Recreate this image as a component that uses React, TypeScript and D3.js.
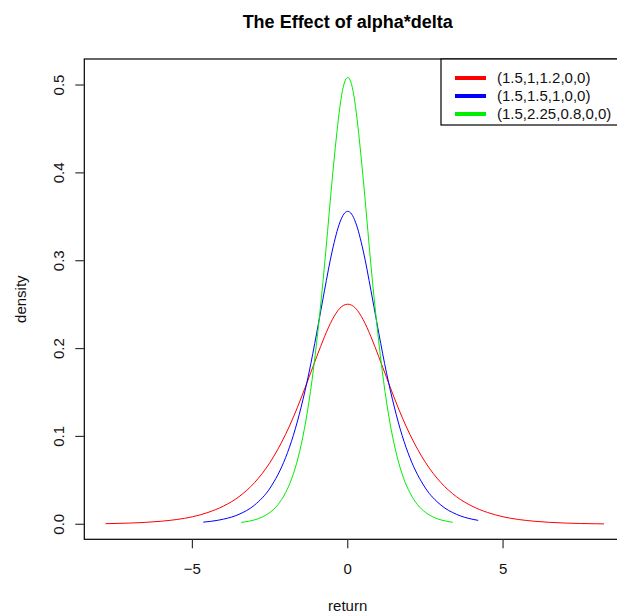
import React from "react";
import * as d3 from "d3";

const redX = [-7.8, -7, -6.5, -6, -5.5, -5, -4.5, -4, -3.5, -3, -2.5, -2, -1.75, -1.5, -1.25, -1, -0.75, -0.5, -0.25, 0, 0.25, 0.5, 0.75, 1, 1.25, 1.5, 1.75, 2, 2.5, 3, 3.5, 4, 4.5, 5, 5.5, 6, 6.5, 7, 7.5, 8, 8.25];
const redY = [0.00066, 0.00139, 0.0022, 0.00347, 0.00544, 0.00852, 0.01345, 0.0207, 0.0314, 0.0474, 0.0705, 0.1024, 0.1219, 0.1437, 0.167, 0.1906, 0.2133, 0.2327, 0.246, 0.2505, 0.246, 0.2327, 0.2133, 0.1906, 0.167, 0.1437, 0.1219, 0.1024, 0.0705, 0.0474, 0.0314, 0.0207, 0.01345, 0.00852, 0.00544, 0.00347, 0.0022, 0.00139, 0.00087, 0.00055, 0.00044];

const blueX = [-4.65, -4.2, -4, -3.5, -3, -2.5, -2, -1.75, -1.5, -1.25, -1, -0.75, -0.5, -0.25, -0.125, 0, 0.125, 0.25, 0.5, 0.75, 1, 1.25, 1.5, 1.75, 2, 2.5, 3, 3.5, 4, 4.2];
const blueY = [0.0024, 0.00443, 0.00582, 0.01133, 0.02184, 0.04125, 0.0759, 0.1012, 0.1334, 0.172, 0.2175, 0.2657, 0.311, 0.3439, 0.3531, 0.3562, 0.3531, 0.3439, 0.311, 0.2657, 0.2175, 0.172, 0.1334, 0.1012, 0.0759, 0.04125, 0.02184, 0.01133, 0.00582, 0.00443];

const greenX = [-3.43, -3.2, -3, -2.75, -2.5, -2.25, -2, -1.8, -1.6, -1.4, -1.2, -1, -0.8, -0.7, -0.6, -0.5, -0.4, -0.3, -0.2, -0.1, 0, 0.1, 0.2, 0.3, 0.4, 0.5, 0.6, 0.7, 0.8, 1, 1.2, 1.4, 1.6, 1.8, 2, 2.25, 2.5, 2.75, 3, 3.2, 3.38];
const greenY = [0.00206, 0.00331, 0.00499, 0.00826, 0.01361, 0.02219, 0.036, 0.0523, 0.0755, 0.1077, 0.151, 0.2072, 0.2753, 0.3132, 0.3533, 0.3927, 0.4288, 0.4615, 0.4876, 0.5034, 0.5086, 0.5034, 0.4876, 0.4615, 0.4288, 0.3927, 0.3533, 0.3132, 0.2753, 0.2072, 0.151, 0.1077, 0.0755, 0.0523, 0.036, 0.02219, 0.01361, 0.00826, 0.00499, 0.00331, 0.00229];

const xTicks = [-5, 0, 5];
const xTickLabels = ["\u22125", "0", "5"];
const yTicks = [0, 0.1, 0.2, 0.3, 0.4, 0.5];
const yTickLabels = ["0.0", "0.1", "0.2", "0.3", "0.4", "0.5"];

const legendLabels = ["(1.5,1,1.2,0,0)", "(1.5,1.5,1,0,0)", "(1.5,2.25,0.8,0,0)"];
const seriesColors = ["#ff0000", "#0000ff", "#00ee00"];

const W = 617;
const H = 616;
const left = 84.3;
const right = 623.9;
const top = 59;
const bottom = 539.3;
const font = "'Liberation Sans', Arial, Helvetica, sans-serif";

export default function App() {
  const x = d3.scaleLinear().domain([-8.48, 8.89]).range([left, right]);
  const y = d3.scaleLinear().domain([-0.0171, 0.5296]).range([bottom, top]);
  const line = d3
    .line<[number, number]>()
    .x((d) => x(d[0]))
    .y((d) => y(d[1]))
    .curve(d3.curveMonotoneX);

  const series = [
    { xs: redX, ys: redY },
    { xs: blueX, ys: blueY },
    { xs: greenX, ys: greenY },
  ];

  const legLeft = 441;
  const legTop = 59;
  const legRow0 = 78;
  const legStep = 18;
  const legBottom = 125;

  return (
    <svg
      width={W}
      height={H}
      viewBox={`0 0 ${W} ${H}`}
      style={{ position: "absolute", left: 0, top: 0, background: "#fff" }}
    >
      <rect x={0} y={0} width={W} height={H} fill="#fff" />
      <text
        x={(left + 611) / 2}
        y={28}
        textAnchor="middle"
        fontFamily={font}
        fontWeight="bold"
        fontSize={18}
        fill="#000"
      >
        The Effect of alpha*delta
      </text>

      {series.map((s, i) => (
        <path
          key={i}
          d={line(s.xs.map((v, j) => [v, s.ys[j]] as [number, number])) || ""}
          fill="none"
          stroke={seriesColors[i]}
          strokeWidth={1}
        />
      ))}

      <rect
        x={left}
        y={top}
        width={right - left}
        height={bottom - top}
        fill="none"
        stroke="#000"
        strokeWidth={1.2}
      />

      {xTicks.map((t, i) => (
        <g key={i}>
          <line x1={x(t)} x2={x(t)} y1={bottom} y2={bottom + 9} stroke="#333" strokeWidth={1.2} />
          <text
            x={x(t)}
            y={574}
            textAnchor="middle"
            fontFamily={font}
            fontSize={15}
            fill="#111"
          >
            {xTickLabels[i]}
          </text>
        </g>
      ))}

      {yTicks.map((t, i) => (
        <g key={i}>
          <line x1={left - 9} x2={left} y1={y(t)} y2={y(t)} stroke="#333" strokeWidth={1.2} />
          <text
            transform={`translate(64,${y(t)}) rotate(-90)`}
            textAnchor="middle"
            fontFamily={font}
            fontSize={15}
            fill="#111"
          >
            {yTickLabels[i]}
          </text>
        </g>
      ))}

      <text x={(left + 611) / 2} y={611} textAnchor="middle" fontFamily={font} fontSize={15} fill="#111">
        return
      </text>
      <text
        transform={`translate(26,${(top + bottom) / 2}) rotate(-90)`}
        textAnchor="middle"
        fontFamily={font}
        fontSize={15}
        fill="#111"
      >
        density
      </text>

      <rect
        x={legLeft}
        y={legTop}
        width={right - legLeft}
        height={legBottom - legTop}
        fill="#fff"
        stroke="#000"
        strokeWidth={1.2}
      />
      {legendLabels.map((lab, i) => (
        <g key={i}>
          <line
            x1={455}
            x2={486}
            y1={legRow0 + i * legStep}
            y2={legRow0 + i * legStep}
            stroke={seriesColors[i]}
            strokeWidth={4}
          />
          <text
            x={497}
            y={legRow0 + i * legStep + 5}
            fontFamily={font}
            fontSize={15}
            fill="#111"
          >
            {lab}
          </text>
        </g>
      ))}
    </svg>
  );
}
